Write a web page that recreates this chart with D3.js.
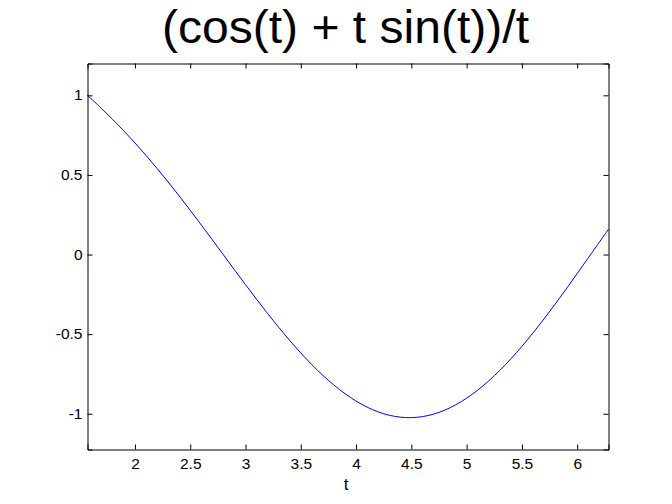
<!DOCTYPE html>
<html>
<head>
<meta charset="utf-8">
<script src="https://cdn.jsdelivr.net/npm/d3@7"></script>
<style>
html, body { margin: 0; padding: 0; background: #fff; }
svg { display: block; }
text { font-family: "Liberation Sans", Arial, Helvetica, sans-serif; }
</style>
</head>
<body>
<svg id="chart" width="672" height="504"></svg>
<script>
const titleText = "(cos(t) + t sin(t))/t";
const xLabelText = "t";
const tValues = [1.5708, 1.7, 1.9, 2.1, 2.3, 2.5, 2.7, 2.9, 3.1, 3.3, 3.5, 3.7, 3.9, 4.1, 4.3, 4.5, 4.7, 4.9, 5.1, 5.3, 5.5, 5.7, 5.9, 6.1, 6.2832];
const fValues = [1.0000, 0.9159, 0.7762, 0.6228, 0.4560, 0.2780, 0.0925, -0.0956, -0.2807, -0.4570, -0.6183, -0.7591, -0.8739, -0.9585, -1.0094, -1.0244, -1.0026, -0.9444, -0.8517, -0.7277, -0.5767, -0.4043, -0.2167, -0.0210, 0.1592];
const xDomain = [1.5708, 6.2832];
const yDomain = [-1.2245, 1.2];
const xTicks = [2, 2.5, 3, 3.5, 4, 4.5, 5, 5.5, 6];
const yTicks = [-1, -0.5, 0, 0.5, 1];

(function () {
const svg = d3.select("#chart");
const pL = 87.5, pR = 608.5, pT = 63.5, pB = 449.5;
const x = d3.scaleLinear().domain(xDomain).range([pL, pR]);
const y = d3.scaleLinear().domain(yDomain).range([pB, pT]);

svg.append("rect").attr("width", 672).attr("height", 504).attr("fill", "#fff");

const data = tValues.map((t, i) => ({t, f: fValues[i]}));
const line = d3.line().x(d => x(d.t)).y(d => y(d.f)).curve(d3.curveCatmullRom.alpha(0.5));
svg.append("path").datum(data).attr("d", line)
  .attr("fill", "none").attr("stroke", "#0000ff").attr("stroke-width", 1);

const fmt = d => String(d);
const tl = 5;
const axB = svg.append("g").attr("transform", `translate(0,${pB})`)
  .call(d3.axisBottom(x).tickValues(xTicks).tickFormat(fmt).tickSize(-tl).tickPadding(8));
const axT = svg.append("g").attr("transform", `translate(0,${pT})`)
  .call(d3.axisTop(x).tickValues(xTicks).tickFormat("").tickSize(-tl));
const axL = svg.append("g").attr("transform", `translate(${pL},0)`)
  .call(d3.axisLeft(y).tickValues(yTicks).tickFormat(fmt).tickSize(-tl).tickPadding(5));
const axR = svg.append("g").attr("transform", `translate(${pR},0)`)
  .call(d3.axisRight(y).tickValues(yTicks).tickFormat("").tickSize(-tl));
[axB, axT, axL, axR].forEach(g => {
  g.select(".domain").attr("stroke", "#000").attr("stroke-width", 1);
  g.selectAll(".tick line").attr("stroke", "#000");
  g.selectAll(".tick text").attr("fill", "#000").attr("font-size", 15.5)
    .attr("font-family", '"Liberation Sans", Arial, sans-serif');
});
axB.selectAll(".tick text").attr("dy", null).attr("y", null)
  .attr("transform", "translate(0,19)");
axL.selectAll(".tick text").attr("dy", "0.3em");

svg.append("text").attr("x", 162).attr("y", 43)
  .attr("font-size", 47).attr("fill", "#000")
  .attr("textLength", 367).attr("lengthAdjust", "spacingAndGlyphs").text(titleText);
svg.append("text").attr("x", 346).attr("y", 490).attr("text-anchor", "middle")
  .attr("font-size", 17).attr("fill", "#000").text(xLabelText);
})();
</script>
</body>
</html>
